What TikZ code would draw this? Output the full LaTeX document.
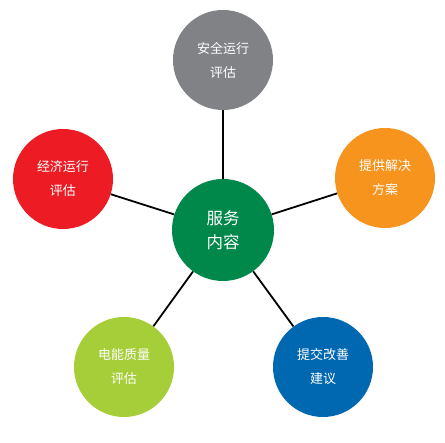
\documentclass[tikz,border=0pt]{standalone}
\usepackage{fontspec}
\setmainfont{Noto Sans CJK SC}
\definecolor{cgray}{HTML}{808285}
\definecolor{cgreen}{HTML}{00874A}
\definecolor{cred}{HTML}{ED1C24}
\definecolor{corange}{HTML}{F7941D}
\definecolor{clime}{HTML}{A6CE39}
\definecolor{cblue}{HTML}{0067B1}
\begin{document}
\begin{tikzpicture}[x=1pt,y=-1pt,
  outer/.style={circle,minimum size=100pt,inner sep=0pt,text=white,align=center,font=\fontsize{13}{24}\selectfont},
  hub/.style={circle,minimum size=102pt,inner sep=0pt,text=white,align=center,font=\fontsize{16.5}{24}\selectfont,fill=cgreen},
  link/.style={line width=1.8pt,black}]
\useasboundingbox (0,0) rectangle (445,443);
\node[hub] (c) at (223,230) {服务\\内容};
\node[outer,fill=cgray] (t) at (223,60) {安全运行\\评估};
\node[outer,fill=cred] (l) at (63,179) {经济运行\\评估};
\node[outer,fill=corange] (r) at (385,178) {提供解决\\方案};
\node[outer,fill=clime] (bl) at (124,367) {电能质量\\评估};
\node[outer,fill=cblue] (br) at (323,367) {提交改善\\建议};
\draw[link] (c) -- (t);
\draw[link] (c) -- (l);
\draw[link] (c) -- (r);
\draw[link] (c) -- (bl);
\draw[link] (c) -- (br);
\end{tikzpicture}
\end{document}
